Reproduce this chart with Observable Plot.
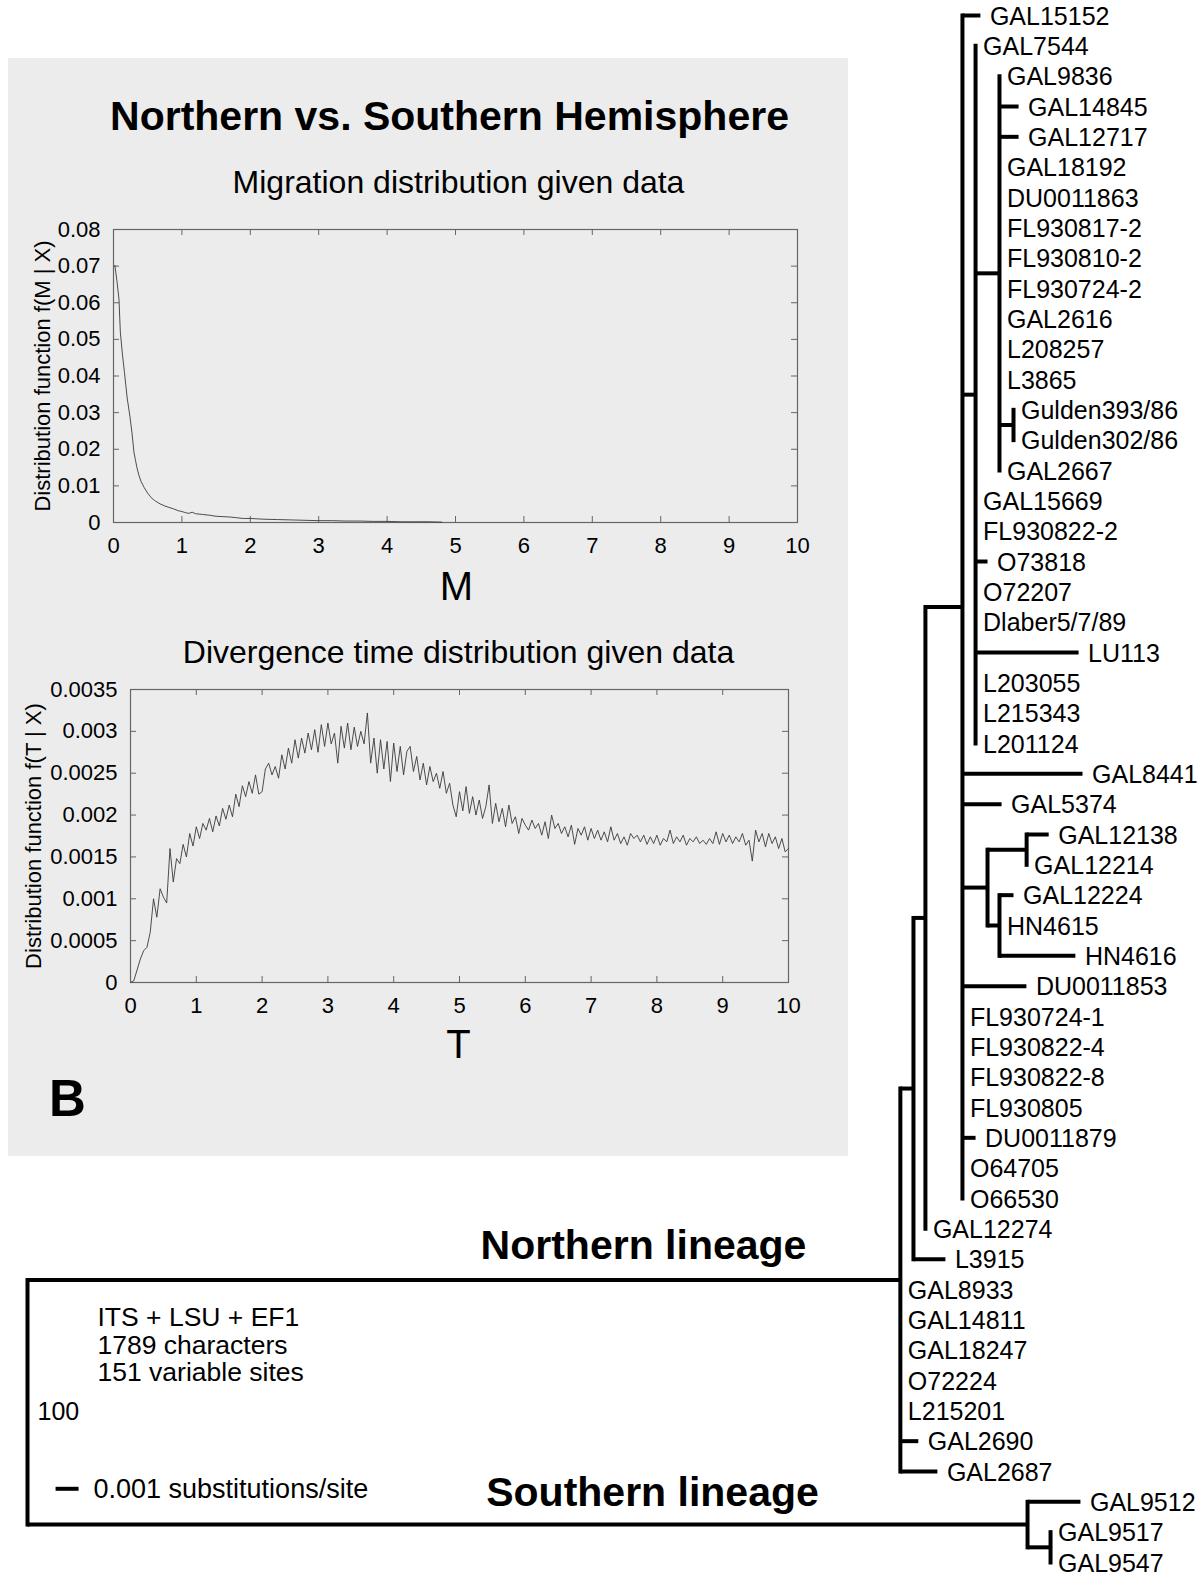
<!DOCTYPE html>
<html><head><meta charset="utf-8">
<script src="https://cdn.jsdelivr.net/npm/d3@7"></script>
<script src="https://cdn.jsdelivr.net/npm/@observablehq/plot@0.6"></script>
<style>
body{margin:0;background:#fff;}
#fig{position:relative;width:1203px;height:1573px;overflow:hidden;font-family:"Liberation Sans",Arial,Helvetica,sans-serif;}
#panel{position:absolute;left:8px;top:58px;width:840px;height:1098px;background:#ececec;z-index:1;}
.layer{position:absolute;}
</style></head><body>
<div id="fig"><div id="panel"></div></div>
<script>
// ---------------- DATA ----------------
// Leaves of the tree, top to bottom
const leafNames = ["GAL15152","GAL7544","GAL9836","GAL14845","GAL12717","GAL18192","DU0011863","FL930817-2","FL930810-2","FL930724-2","GAL2616","L208257","L3865","Gulden393/86","Gulden302/86","GAL2667","GAL15669","FL930822-2","O73818","O72207","Dlaber5/7/89","LU113","L203055","L215343","L201124","GAL8441","GAL5374","GAL12138","GAL12214","GAL12224","HN4615","HN4616","DU0011853","FL930724-1","FL930822-4","FL930822-8","FL930805","DU0011879","O64705","O66530","GAL12274","L3915","GAL8933","GAL14811","GAL18247","O72224","L215201","GAL2690","GAL2687","GAL9512","GAL9517","GAL9547"];
// Tree edges: [child, parent, branch length in units of 0.001 substitutions/site]
const treeEdges = [
 ["nI","root",37.95],["nJ","root",43.48],
 ["nH","nI",0.57],["GAL8933","nI",0],["GAL14811","nI",0],["GAL18247","nI",0],["O72224","nI",0],["L215201","nI",0],["GAL2690","nI",0.78],["GAL2687","nI",1.61],
 ["nG","nH",0.52],["L3915","nH",1.39],
 ["nA","nG",1.61],["GAL12274","nG",0],
 ["GAL15152","nA",0.78],["nB","nA",0.57],["GAL8441","nA",5.22],["GAL5374","nA",1.70],["nD","nA",1.09],["DU0011853","nA",2.78],["FL930724-1","nA",0],["FL930822-4","nA",0],["FL930822-8","nA",0],["FL930805","nA",0],["DU0011879","nA",0.57],["O64705","nA",0],["O66530","nA",0],
 ["GAL7544","nB",0],["nC","nB",1.04],["GAL15669","nB",0],["FL930822-2","nB",0],["O73818","nB",0.52],["O72207","nB",0],["Dlaber5/7/89","nB",0],["LU113","nB",4.48],["L203055","nB",0],["L215343","nB",0],["L201124","nB",0],
 ["GAL9836","nC",0],["GAL14845","nC",0.83],["GAL12717","nC",0.83],["GAL18192","nC",0],["DU0011863","nC",0],["FL930817-2","nC",0],["FL930810-2","nC",0],["FL930724-2","nC",0],["GAL2616","nC",0],["L208257","nC",0],["L3865","nC",0],["nP","nC",0.61],["GAL2667","nC",0],
 ["Gulden393/86","nP",0],["Gulden302/86","nP",0],
 ["nE","nD",1.70],["nF","nD",0.52],
 ["GAL12138","nE",0.96],["GAL12214","nE",0],
 ["GAL12224","nF",0.61],["HN4615","nF",0],["HN4616","nF",3.30],
 ["GAL9512","nJ",2.30],["nK","nJ",1.00],
 ["GAL9517","nK",0],["GAL9547","nK",0]
];
const scaleBarLength = 1; // 0.001 substitutions/site

// Migration distribution f(M | X)
const migM = [0.02,0.05,0.08,0.1,0.13,0.16,0.2,0.24,0.27,0.3,0.32,0.34,0.37,0.4,0.45,0.5,0.55,0.6,0.68,0.75,0.8,0.88,0.95,1.0,1.05,1.1,1.15,1.2,1.3,1.4,1.5,1.6,1.7,1.8,1.9,2.0,2.2,2.4,2.6,2.8,3.0,3.2,3.4,3.6,3.8,4.0,4.2,4.4,4.6,4.8];
const migF = [0.0702,0.066,0.061,0.052,0.046,0.041,0.034,0.029,0.0245,0.019,0.0172,0.0152,0.0130,0.0113,0.0095,0.0080,0.0068,0.0060,0.0051,0.0045,0.0042,0.0037,0.0032,0.0030,0.0027,0.0025,0.0028,0.0024,0.0022,0.0020,0.0017,0.0016,0.0015,0.0013,0.0011,0.0011,0.0009,0.0008,0.0007,0.0006,0.0005,0.0005,0.0004,0.0004,0.0003,0.0003,0.0002,0.0002,0.0002,0.0001];
const migYTicks = [0,0.01,0.02,0.03,0.04,0.05,0.06,0.07,0.08];
const xTicks10 = [0,1,2,3,4,5,6,7,8,9,10];

// Divergence time distribution f(T | X), sampled every 0.05 from T = 0
const divStep = 0.05;
const divF = [
0,0.00002,0.00015,0.00028,0.00038,0.00042,0.0006,0.001,0.00078,0.00112,0.00102,0.00095,0.0016,0.0012,0.00148,0.00142,0.00165,0.0015,0.00178,0.00163,
0.00186,0.00172,0.0019,0.00182,0.00196,0.0018,0.00199,0.00187,0.00208,0.00195,0.00212,0.00198,0.00225,0.0021,0.00235,0.00222,0.0024,0.00226,0.00248,0.00225,
0.00228,0.00255,0.00262,0.00248,0.00258,0.00244,0.00272,0.00255,0.0028,0.00262,0.0029,0.00268,0.00292,0.00274,0.00298,0.00278,0.00302,0.00275,0.00308,0.00282,
0.0031,0.00285,0.00298,0.00262,0.00306,0.0028,0.0031,0.00278,0.00305,0.00282,0.003,0.00285,0.00322,0.00262,0.00292,0.0025,0.0029,0.00255,0.00288,0.0024,
0.00286,0.00252,0.00282,0.00248,0.00276,0.00282,0.00252,0.0027,0.00242,0.00262,0.00236,0.00258,0.0024,0.0025,0.00232,0.00252,0.00226,0.00238,0.00212,0.00198,
0.00228,0.00205,0.00234,0.00202,0.00222,0.002,0.00218,0.00196,0.0021,0.00236,0.0019,0.00214,0.00192,0.00208,0.00186,0.00212,0.0019,0.00198,0.00178,0.00196,
0.00188,0.00182,0.00194,0.00184,0.0019,0.00176,0.00192,0.00172,0.002,0.00184,0.0019,0.00178,0.00186,0.00174,0.00188,0.00165,0.00184,0.00176,0.00186,0.0017,
0.00184,0.00172,0.00182,0.0017,0.0018,0.00168,0.00186,0.0017,0.00178,0.00166,0.00174,0.00164,0.00178,0.00172,0.00176,0.00168,0.00176,0.00165,0.00174,0.00166,
0.00176,0.00164,0.00172,0.00168,0.00182,0.00166,0.00174,0.00168,0.00176,0.00164,0.00172,0.00168,0.00174,0.00166,0.0017,0.00165,0.00172,0.00166,0.0018,0.00165,
0.00178,0.00168,0.00176,0.00166,0.00174,0.00168,0.00178,0.00164,0.0017,0.00145,0.00182,0.00168,0.00178,0.00162,0.00178,0.00166,0.00174,0.0016,0.00172,0.00156,
0.0016];
const divYTicks = [0,0.0005,0.001,0.0015,0.002,0.0025,0.003,0.0035];

// Texts
const texts = {
  title: "Northern vs. Southern Hemisphere",
  sub1: "Migration distribution given data",
  sub2: "Divergence time distribution given data",
  ylab1: "Distribution function f(M | X)",
  ylab2: "Distribution function f(T | X)",
  xlab1: "M", xlab2: "T", panel: "B",
  north: "Northern lineage", south: "Southern lineage",
  info: ["ITS + LSU + EF1","1789 characters","151 variable sites"],
  support: "100", scale: "0.001 substitutions/site"
};

// ---------------- LAYOUT ----------------
const FONT = '"Liberation Sans", Arial, Helvetica, sans-serif';
const fig = document.getElementById("fig");

// tree layout from the edge table
const kidsOf = d3.group(treeEdges, e => e[1]);
const depth = new Map([["root", 0]]);
const yPos = new Map(leafNames.map((n, i) => [n, i + 1]));
const verticals = [];
(function walk(node) {
  const kids = kidsOf.get(node) || [];
  for (const [c, , len] of kids) { depth.set(c, depth.get(node) + len); walk(c); }
  if (kids.length) {
    const ys = kids.map(k => yPos.get(k[0]));
    const lo = d3.min(ys), hi = d3.max(ys);
    yPos.set(node, (lo + hi) / 2);
    verticals.push({x: depth.get(node), y1: lo, y2: hi});
  }
})("root");
const horizontals = treeEdges.filter(e => e[2] > 0).map(([c, p]) => ({x1: depth.get(p), x2: depth.get(c), y: yPos.get(c)}));
const leafRows = leafNames.map(n => ({name: n, x: depth.get(n), y: yPos.get(n), zero: treeEdges.find(e => e[0] === n)[2] === 0}));

function note(text, x, y, size, opts = {}) {
  return Plot.text([text], {frameAnchor: "top-left", dx: x, dy: y, text: d => d, fontSize: size,
    fontWeight: opts.weight || "normal", textAnchor: opts.anchor || "middle", lineAnchor: "middle", fill: "black"});
}

const treePlot = Plot.plot({
  width: 1203, height: 1573, margin: 0,
  x: {domain: [0, 1], range: [27, 50], axis: null},
  y: {domain: [1, 52], range: [15, 1562], axis: null},
  style: {background: "transparent", fontFamily: FONT, overflow: "visible"},
  marks: [
    Plot.link(verticals, {x1: "x", x2: "x", y1: "y1", y2: "y2", stroke: "black", strokeWidth: 4, strokeLinecap: "square"}),
    Plot.link(horizontals, {x1: "x1", x2: "x2", y1: "y", y2: "y", stroke: "black", strokeWidth: 4}),
    Plot.text(leafRows.filter(d => d.zero), {x: "x", y: "y", text: "name", dx: 7.5, dy: 1, textAnchor: "start", fontSize: 25, fill: "black"}),
    Plot.text(leafRows.filter(d => !d.zero), {x: "x", y: "y", text: "name", dx: 9.5, dy: 1, textAnchor: "start", fontSize: 25, fill: "black"}),
    Plot.link([{s: 1.22}], {x1: "s", x2: d => d.s + scaleBarLength, y1: 49.57, y2: 49.57, stroke: "black", strokeWidth: 4}),
    note(texts.title, 449, 116, 41, {weight: "bold"}),
    note(texts.sub1, 458, 182, 32),
    note(texts.xlab1, 456, 587, 40),
    note(texts.sub2, 458, 652, 32),
    note(texts.xlab2, 458, 1045, 40),
    note(texts.panel, 67, 1099, 51, {weight: "bold"}),
    note(texts.north, 643, 1245, 41, {weight: "bold"}),
    note(texts.south, 652, 1492, 41, {weight: "bold"}),
    note(texts.info[0], 97, 1317, 26.5, {anchor: "start"}),
    note(texts.info[1], 97, 1345, 26.5, {anchor: "start"}),
    note(texts.info[2], 97, 1372, 26.5, {anchor: "start"}),
    note(texts.support, 37, 1411, 25, {anchor: "start"}),
    note(texts.scale, 93, 1489, 27, {anchor: "start"})
  ]
});
const treeLayer = document.createElement("div");
treeLayer.className = "layer"; treeLayer.style.cssText = "left:0;top:0;z-index:3;pointer-events:none;";
treeLayer.append(treePlot); fig.append(treeLayer);

function inset({data, x, y, yDomain, yTicks, ylabel, left, top, width, height, mL, mR, mT, mB, ylabDx}) {
  const innerW = width - mL - mR, innerH = height - mT - mB;
  const p = Plot.plot({
    width, height, marginLeft: mL, marginRight: mR, marginTop: mT, marginBottom: mB,
    style: {background: "transparent", fontFamily: FONT, fontSize: "22px", color: "black", overflow: "visible"},
    x: {domain: [0, 10]},
    y: {domain: yDomain},
    marks: [
      Plot.axisX(xTicks10, {tickSize: 0, tickPadding: 15, fontSize: 22, fill: "black", label: null}),
      Plot.axisY(yTicks, {tickSize: 0, tickPadding: 13, fontSize: 22, fill: "black", tickFormat: d => String(d), label: null}),
      Plot.tickY(yTicks, {y: d => d, stroke: "#666", insetRight: innerW - 6}),
      Plot.tickY(yTicks, {y: d => d, stroke: "#666", insetLeft: innerW - 6}),
      Plot.tickX(xTicks10, {x: d => d, stroke: "#666", insetTop: innerH - 6}),
      Plot.tickX(xTicks10, {x: d => d, stroke: "#666", insetBottom: innerH - 6}),
      Plot.frame({stroke: "#666", strokeWidth: 1.2}),
      Plot.line(data, {x, y, stroke: "#3a3a3a", strokeWidth: 0.9}),
      Plot.text([ylabel], {frameAnchor: "left", dx: ylabDx, text: d => d, rotate: -90, fontSize: 22, fill: "black", textAnchor: "middle", lineAnchor: "middle"})
    ]
  });
  const div = document.createElement("div");
  div.className = "layer"; div.style.cssText = `left:${left}px;top:${top}px;z-index:2;`;
  div.append(p); fig.append(div);
}

const migRows = migM.map((m, i) => ({m, f: migF[i]}));
const divRows = divF.map((f, i) => ({t: i * divStep, f}));

inset({data: migRows, x: "m", y: "f", yDomain: [0, 0.08], yTicks: migYTicks, ylabel: texts.ylab1,
  left: 8, top: 210, width: 830, height: 400, mL: 105, mR: 41, mT: 19, mB: 88, ylabDx: -71});
inset({data: divRows, x: "t", y: "f", yDomain: [0, 0.0035], yTicks: divYTicks, ylabel: texts.ylab2,
  left: 8, top: 670, width: 830, height: 400, mL: 122, mR: 50, mT: 19, mB: 88, ylabDx: -97});
</script>
</body></html>
